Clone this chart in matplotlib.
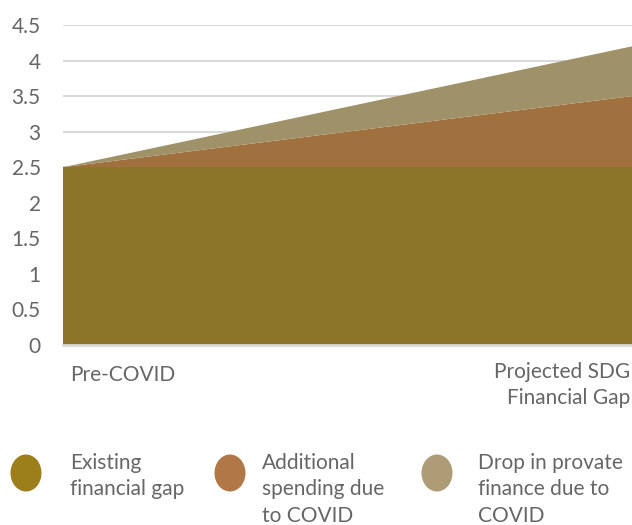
import matplotlib
matplotlib.use("Agg")
import matplotlib.pyplot as plt
from matplotlib.patches import Ellipse
import numpy as np

categories = ["Pre-COVID", "Projected SDG\nFinancial Gap"]
existing = [2.5, 2.5]
additional = [0.0, 1.0]
drop_private = [0.0, 0.7]
series_names = ["Existing\nfinancial gap", "Additional\nspending due\nto COVID", "Drop in provate\nfinance due to\nCOVID"]
area_colors = ["#8B7628", "#A0703F", "#9F9269"]
legend_colors = ["#9C7F1A", "#B07846", "#AD9C76"]
yticks = [0, 0.5, 1, 1.5, 2, 2.5, 3, 3.5, 4, 4.5]

plt.rcParams['font.family'] = ['Lato', 'DejaVu Sans']
txt = "#666666"
fs = 15

fig = plt.figure(figsize=(6.32, 5.25), dpi=100)
ax = fig.add_axes([63/632, 1-345/525, 1-63/632, (345-25)/525])

x = np.arange(len(categories))
ax.stackplot(x, existing, additional, drop_private, colors=area_colors, linewidth=0)
ax.set_xlim(0, 1)
ax.set_ylim(0, 4.5)
ax.set_yticks(yticks)
ax.set_yticklabels([f"{v:g}" for v in yticks], color=txt, fontsize=fs)
ax.yaxis.grid(True, color="#D9D9D9", linewidth=1.5)
ax.set_axisbelow(True)
ax.tick_params(axis='y', length=0, pad=16)
ax.set_xticks([])
for s in ["top", "right", "left"]:
    ax.spines[s].set_visible(False)
ax.spines["bottom"].set_color("#D9D9D9")
ax.spines["bottom"].set_linewidth(2)

fig.text(70/632, 1-375/525, categories[0], ha="left", va="center", color=txt, fontsize=fs)
fig.text(630/632, 1-385/525, categories[1], ha="right", va="center", color=txt, fontsize=fs,
         linespacing=1.4, multialignment="right")

circ_x = [26, 230, 437]
text_x = [70, 262, 478]
for cx, tx, name, col in zip(circ_x, text_x, series_names, legend_colors):
    e = Ellipse((cx/632, 1-473/525), 31/632, 37/525, transform=fig.transFigure,
                facecolor=col, edgecolor="none")
    fig.patches.append(e)
    fig.text(tx/632, 1-453/525, name, ha="left", va="top", color=txt, fontsize=fs, linespacing=1.4)

fig.savefig("out.png", dpi=100)
